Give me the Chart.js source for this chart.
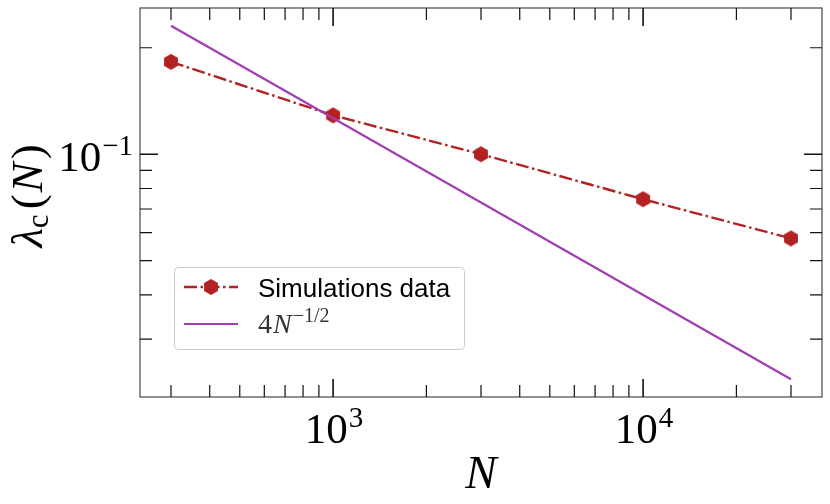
<!DOCTYPE html>
<html><head><meta charset="utf-8">
<script src="https://cdn.jsdelivr.net/npm/chart.js@4.4.1/dist/chart.umd.min.js"></script>
<style>html,body{margin:0;padding:0;background:#fff}#wrap{width:830px;height:504px;position:relative}</style>
</head><body><div id="wrap"><canvas id="c" width="830" height="504"></canvas></div>
<script>
// ---- data ----
const systemSizes = [300, 1000, 3000, 10000, 30000];
const lambdaSim = [0.1825, 0.1288, 0.1000, 0.0746, 0.0578];
const fitSizes = [300, 30000];
const fitValues = [0.2309, 0.02309];
const seriesNames = ["Simulations data", "4N^{-1/2}"];
const xMajorTicks = [1000, 10000];
const xMajorLabels = [["10", "3"], ["10", "4"]];
const xMinorTicks = [300, 400, 500, 600, 700, 800, 900, 2000, 3000, 4000, 5000, 6000, 7000, 8000, 9000, 20000, 30000];
const yMajorTicks = [0.1];
const yMajorLabels = [["10", "\u22121"]];
const yMinorTicks = [0.03, 0.04, 0.05, 0.06, 0.07, 0.08, 0.09, 0.2];
const xLimits = [238.3, 37768];
const yLimits = [0.02058, 0.2591];

const RED = '#b22222';
const PURPLE = '#a23db3';
const SERIF = '"Liberation Serif", "DejaVu Serif", serif';
const SANS = '"Liberation Sans", Arial, sans-serif';

function hexMarker(R, color) {
  const s = Math.ceil(2 * R + 2);
  const cv = document.createElement('canvas');
  cv.width = s; cv.height = s;
  const g = cv.getContext('2d');
  g.fillStyle = color;
  g.beginPath();
  for (let k = 0; k < 6; k++) {
    const a = -Math.PI / 2 + k * Math.PI / 3;
    const px = s / 2 + R * Math.cos(a), py = s / 2 + R * Math.sin(a);
    if (k === 0) g.moveTo(px, py); else g.lineTo(px, py);
  }
  g.closePath(); g.fill();
  return cv;
}

function drawPow(ctx, base, exp, x, y, align, bf, ef, raise, color) {
  ctx.save();
  ctx.fillStyle = color || '#000';
  ctx.textBaseline = 'alphabetic';
  ctx.textAlign = 'left';
  ctx.font = bf; const wb = ctx.measureText(base).width;
  ctx.font = ef; const we = ctx.measureText(exp).width;
  const gap = 1;
  const total = wb + gap + we;
  let sx = x;
  if (align === 'center') sx = x - total / 2;
  else if (align === 'right') sx = x - total;
  ctx.font = bf; ctx.fillText(base, sx, y);
  ctx.font = ef; ctx.fillText(exp, sx + wb + gap, y - raise);
  ctx.restore();
  return total;
}

const decor = {
  id: 'decor',
  afterDatasetsDraw(chart) {
    const ctx = chart.ctx, a = chart.chartArea;
    const xs = chart.scales.x, ys = chart.scales.y;
    ctx.save();
    // frame
    ctx.strokeStyle = '#555'; ctx.lineWidth = 1.3;
    ctx.strokeRect(a.left, a.top, a.right - a.left, a.bottom - a.top);
    // ticks (inward, all sides)
    ctx.strokeStyle = '#111';
    function xt(v, len, w) {
      const px = xs.getPixelForValue(v);
      ctx.lineWidth = w; ctx.beginPath();
      ctx.moveTo(px, a.bottom); ctx.lineTo(px, a.bottom - len);
      ctx.moveTo(px, a.top); ctx.lineTo(px, a.top + len);
      ctx.stroke();
    }
    function yt(v, len, w) {
      const py = ys.getPixelForValue(v);
      ctx.lineWidth = w; ctx.beginPath();
      ctx.moveTo(a.left, py); ctx.lineTo(a.left + len, py);
      ctx.moveTo(a.right, py); ctx.lineTo(a.right - len, py);
      ctx.stroke();
    }
    xMinorTicks.forEach(v => xt(v, 12, 1.2));
    xMajorTicks.forEach(v => xt(v, 18, 1.6));
    yMinorTicks.forEach(v => yt(v, 12, 1.2));
    yMajorTicks.forEach(v => yt(v, 18, 1.6));
    // tick labels
    const bf = '43px ' + SERIF, ef = '29px ' + SERIF;
    xMajorTicks.forEach((v, i) => {
      drawPow(ctx, xMajorLabels[i][0], xMajorLabels[i][1], xs.getPixelForValue(v) + 1, a.bottom + 46, 'center', bf, ef, 16);
    });
    yMajorTicks.forEach((v, i) => {
      drawPow(ctx, yMajorLabels[i][0], yMajorLabels[i][1], a.left - 7, ys.getPixelForValue(v) + 16.5, 'right', bf, ef, 16);
    });
    // x title
    ctx.fillStyle = '#000';
    ctx.font = 'italic 47px ' + SERIF;
    ctx.textAlign = 'center'; ctx.textBaseline = 'alphabetic';
    ctx.fillText('N', (a.left + a.right) / 2, 488);
    // y title: lambda_c(N)
    const segs = [
      { t: '\u03bb', f: 'italic 45px ' + SERIF, dy: 0 },
      { t: 'c', f: '31px ' + SERIF, dy: 6 },
      { t: '(', f: '45px ' + SERIF, dy: 0 },
      { t: 'N', f: 'italic 45px ' + SERIF, dy: 0 },
      { t: ')', f: '45px ' + SERIF, dy: 0 }
    ];
    const extra = [0, 5, 2, 3, 0];
    let tot = 0;
    segs.forEach((s, i) => { ctx.font = s.f; s.w = ctx.measureText(s.t).width; tot += s.w + extra[i]; });
    ctx.save();
    ctx.translate(42, 196);
    ctx.rotate(-Math.PI / 2);
    ctx.textAlign = 'left';
    let cx = -tot / 2;
    segs.forEach((s, i) => {
      ctx.font = s.f; ctx.fillText(s.t, cx, s.dy);
      cx += s.w + extra[i];
    });
    ctx.restore();
    ctx.restore();
  },
  afterDraw(chart) {
    const ctx = chart.ctx;
    ctx.save();
    // legend box
    const bx = 174.5, by = 267.5, bw = 290, bh = 82, r = 4;
    ctx.beginPath();
    ctx.moveTo(bx + r, by); ctx.lineTo(bx + bw - r, by); ctx.arcTo(bx + bw, by, bx + bw, by + r, r);
    ctx.lineTo(bx + bw, by + bh - r); ctx.arcTo(bx + bw, by + bh, bx + bw - r, by + bh, r);
    ctx.lineTo(bx + r, by + bh); ctx.arcTo(bx, by + bh, bx, by + bh - r, r);
    ctx.lineTo(bx, by + r); ctx.arcTo(bx, by, bx + r, by, r); ctx.closePath();
    ctx.fillStyle = 'rgba(255,255,255,0.8)'; ctx.fill();
    ctx.strokeStyle = '#cccccc'; ctx.lineWidth = 1; ctx.stroke();
    // entry 1
    const ds0 = chart.data.datasets.find(d => d.label === seriesNames[0]);
    ctx.strokeStyle = ds0.borderColor; ctx.lineWidth = ds0.borderWidth; ctx.setLineDash(ds0.borderDash);
    ctx.beginPath(); ctx.moveTo(184, 287); ctx.lineTo(238, 287); ctx.stroke();
    ctx.setLineDash([]);
    ctx.drawImage(ds0.pointStyle, 211 - ds0.pointStyle.width / 2, 287 - ds0.pointStyle.height / 2);
    ctx.fillStyle = '#000'; ctx.font = '26px ' + SANS; ctx.textAlign = 'left'; ctx.textBaseline = 'alphabetic';
    ctx.fillText(seriesNames[0], 258, 296.5);
    // entry 2
    const ds1 = chart.data.datasets.find(d => d.label === seriesNames[1]);
    ctx.strokeStyle = ds1.borderColor; ctx.lineWidth = ds1.borderWidth;
    ctx.beginPath(); ctx.moveTo(184, 324); ctx.lineTo(238, 324); ctx.stroke();
    ctx.fillStyle = '#333';
    ctx.font = '28px ' + SERIF; ctx.fillText('4', 258, 333);
    const w4 = ctx.measureText('4').width;
    drawPow(ctx, 'N', '\u22121/2', 258 + w4 + 1, 333, 'left', 'italic 28px ' + SERIF, '20px ' + SERIF, 11, '#333');
    ctx.restore();
  }
};

function build() {
  const ctx = document.getElementById('c').getContext('2d');
  new Chart(ctx, {
    type: 'line',
    data: {
      datasets: [
        {
          label: seriesNames[0],
          data: systemSizes.map((n, i) => ({ x: n, y: lambdaSim[i] })),
          borderColor: RED, backgroundColor: RED, borderWidth: 2.4,
          borderDash: [13, 3.5, 2.5, 3.5],
          pointStyle: hexMarker(8, RED), pointRadius: 8,
          pointBorderWidth: 0,
          tension: 0, order: 2
        },
        {
          label: seriesNames[1],
          data: fitSizes.map((n, i) => ({ x: n, y: fitValues[i] })),
          borderColor: PURPLE, backgroundColor: PURPLE, borderWidth: 2.2,
          pointRadius: 0, tension: 0, order: 1
        }
      ]
    },
    options: {
      responsive: false, animation: false, events: [],
      layout: { padding: { left: 140, top: 7, right: 7, bottom: 107 } },
      plugins: { legend: { display: false }, tooltip: { enabled: false } },
      scales: {
        x: { type: 'logarithmic', min: xLimits[0], max: xLimits[1], display: false },
        y: { type: 'logarithmic', min: yLimits[0], max: yLimits[1], display: false }
      }
    },
    plugins: [decor]
  });
}
const fl = [document.fonts.load('42px "Liberation Serif"'), document.fonts.load('italic 42px "Liberation Serif"'), document.fonts.load('26px "Liberation Sans"')];
Promise.all(fl).then(build, build);
</script>
</body></html>
